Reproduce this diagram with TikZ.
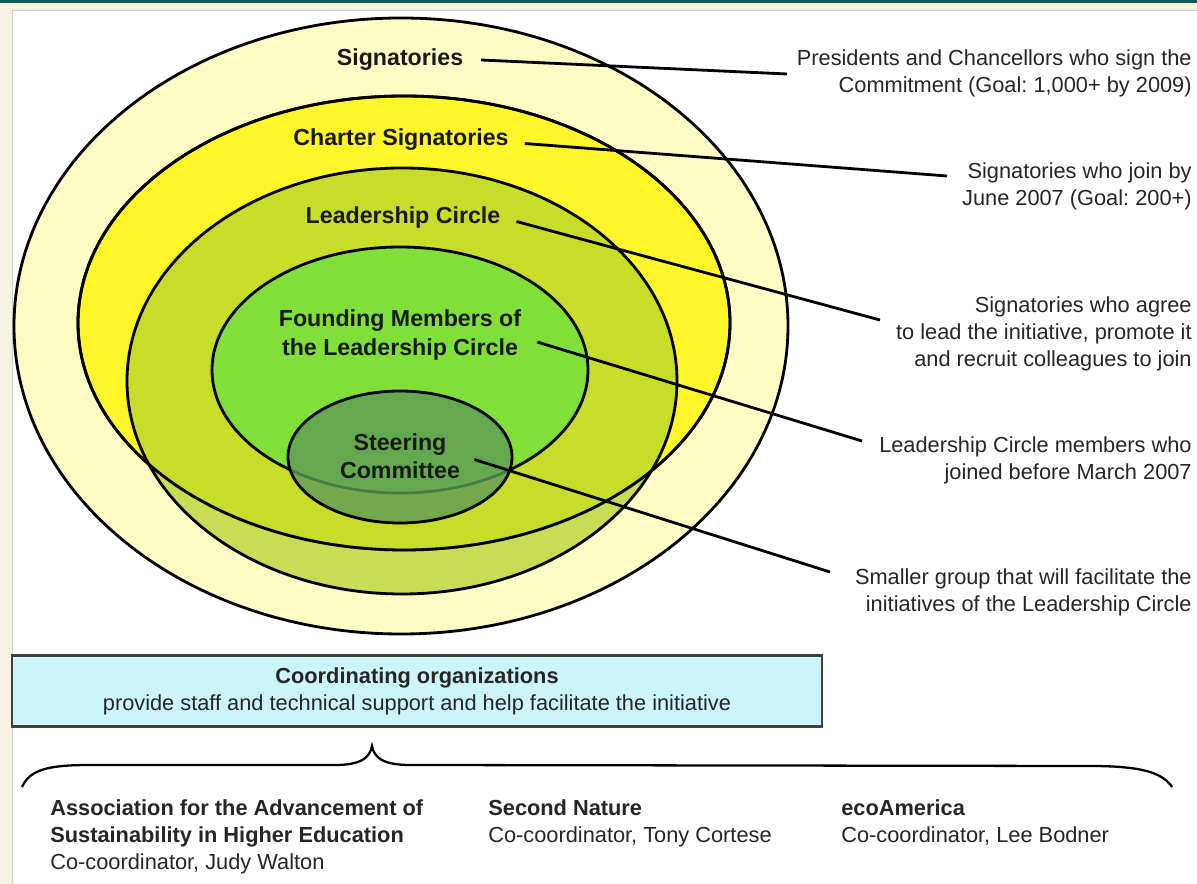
\documentclass[tikz,border=0pt]{standalone}
\usepackage{fontspec}
\setmainfont{Liberation Sans}
\frenchspacing
\definecolor{cream}{HTML}{F5F2E2}
\definecolor{frameteal}{HTML}{0E5C52}
\definecolor{paleyellow}{HTML}{FFFBC4}
\definecolor{brightyellow}{HTML}{FFF62A}
\definecolor{leadgreen}{RGB}{179,210,43}
\definecolor{foundgreen}{HTML}{80DF38}
\definecolor{steergreen}{HTML}{5E9C55}
\definecolor{boxcyan}{HTML}{CBF5F8}
\newcommand{\lbltext}{\fontsize{13.2}{16}\selectfont\bfseries}
\newcommand{\desctext}{\fontsize{12.4}{15.4}\selectfont}
\tikzset{
  ring/.style={line width=1.6pt},
  lbl/.style={font=\lbltext, align=center, inner sep=0pt, text=black!90},
  desc/.style={font=\desctext, align=right, inner sep=0pt, anchor=east, text=black!85},
  conn/.style={line width=1.6pt},
  org/.style={font=\desctext, align=left, inner sep=0pt, anchor=north west, text=black!85},
  coordbox/.style={draw=black!75, line width=1.2pt, fill=boxcyan, font=\desctext, align=center,
    minimum width=16.2cm, minimum height=1.42cm, text=black!85}
}
\begin{document}
\begin{tikzpicture}[x=0.02cm, y=-0.02cm]
  \useasboundingbox (0,0) rectangle (1197,884);
  \fill[cream] (0,0) rectangle (1197,884);
  \fill[frameteal] (0,0) rectangle (1197,3);
  \filldraw[fill=white, draw=black!20] (12,10) rectangle (1197,884);
  % nested rings
  \filldraw[ring, fill=paleyellow] (401,326) ellipse [x radius=387, y radius=308];
  \filldraw[ring, fill=brightyellow] (404,323) ellipse [x radius=326, y radius=227];
  \filldraw[ring, fill=leadgreen, fill opacity=.72] (402,381) ellipse [x radius=275, y radius=213];
  \draw[ring] (404,323) ellipse [x radius=326, y radius=227];
  \filldraw[ring, fill=foundgreen] (400,370) ellipse [x radius=188, y radius=123];
  \filldraw[ring, fill=steergreen, fill opacity=.8] (400,457) ellipse [x radius=112, y radius=66];
  % ring labels
  \node[lbl] (sig) at (400,60) {Signatories};
  \node[lbl] (chart) at (401,140) {Charter Signatories};
  \node[lbl] (lead) at (403,218) {Leadership Circle};
  \node[lbl] (found) at (400,335) {Founding Members of\\the Leadership Circle};
  \node[lbl] (steer) at (400,456) {Steering\\Committee};
  % descriptions
  \node[desc] (sigdesc) at (1192,73) {Presidents and Chancellors who sign the\\Commitment (Goal: 1,000+ by 2009)};
  \node[desc] (chartdesc) at (1192,186) {Signatories who join by\\June 2007 (Goal: 200+)};
  \node[desc] (leaddesc) at (1192,334) {Signatories who agree\\to lead the initiative, promote it\\and recruit colleagues to join};
  \node[desc] (founddesc) at (1192,460) {Leadership Circle members who\\joined before March 2007};
  \node[desc] (steerdesc) at (1192,592) {Smaller group that will facilitate the\\initiatives of the Leadership Circle};
  \coordinate (sigend) at (787,74);
  \coordinate (chartend) at (947,176);
  \coordinate (leadend) at (880,320);
  \coordinate (foundend) at (862,441);
  \coordinate (steerend) at (830,572);
  \draw[conn] ([xshift=10pt]sig.east) -- (sigend);
  \draw[conn] ([xshift=9pt,yshift=-2pt]chart.east) -- (chartend);
  \draw[conn] ([xshift=9pt,yshift=-2pt]lead.east) -- (leadend);
  \draw[conn] ([xshift=9pt,yshift=-4pt]found.east) -- (foundend);
  \draw[conn] ([xshift=8pt,yshift=-2pt]steer.east) -- (steerend);
  % coordinating organizations
  \node[coordbox] (coord) at (417,691) {\textbf{Coordinating organizations}\\provide staff and technical support and help facilitate the initiative};
  \coordinate (bl) at (22,787);
  \coordinate (tip) at (372,746);
  \coordinate (br) at (1172,787);
  \draw[line width=1.3pt] (bl) .. controls (30,769) and (50,765) .. (90,765) -- (335,765)
    .. controls (362,765) and (370,757) .. (tip) .. controls (374,757) and (382,765) .. (410,765)
    -- (1090,766) .. controls (1140,766) and (1162,772) .. (br);
  \node[org] (aashe) at (50,799) {\textbf{Association for the Advancement of}\\\textbf{Sustainability in Higher Education}\\Co-coordinator, Judy Walton};
  \node[org] (second) at (488,799) {\textbf{Second Nature}\\Co-coordinator, Tony Cortese};
  \node[org] (eco) at (841,799) {\textbf{ecoAmerica}\\Co-coordinator, Lee Bodner};
\end{tikzpicture}
\end{document}
